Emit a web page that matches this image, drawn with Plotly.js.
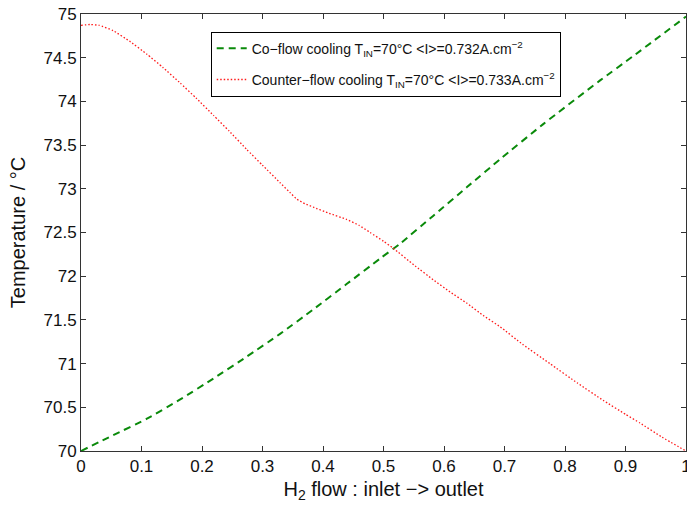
<!DOCTYPE html>
<html>
<head>
<meta charset="utf-8">
<script src="https://cdn.plot.ly/plotly-3.0.1.min.js"></script>
<style>html,body{margin:0;padding:0;background:#fff;}#chart{width:687px;height:508px;}</style>
</head>
<body>
<div id="chart"></div>
<script>
// Co-flow cooling (green dashed)
var coflowX = [0, 0.053, 0.109, 0.164, 0.219, 0.274, 0.329, 0.384, 0.439, 0.494, 0.527, 0.582, 0.638, 0.693, 0.764, 0.858, 0.913, 1.0];
var coflowT = [70.00, 70.18, 70.37, 70.59, 70.83, 71.08, 71.34, 71.62, 71.91, 72.20, 72.37, 72.69, 73.02, 73.34, 73.74, 74.24, 74.52, 74.97];

// Counter-flow cooling (red dotted)
var counterX = [0, 0.015, 0.03, 0.053, 0.08, 0.109, 0.135, 0.164, 0.19, 0.219, 0.245, 0.274, 0.3, 0.329, 0.345, 0.357, 0.37, 0.384, 0.41, 0.439, 0.46, 0.478, 0.5, 0.516, 0.55, 0.582, 0.61, 0.638, 0.665, 0.693, 0.73, 0.775, 0.82, 0.863, 0.9, 0.924, 0.96, 1.0];
var counterT = [74.87, 74.88, 74.87, 74.81, 74.69, 74.54, 74.39, 74.21, 74.04, 73.84, 73.66, 73.45, 73.27, 73.07, 72.96, 72.88, 72.83, 72.79, 72.72, 72.65, 72.58, 72.50, 72.40, 72.32, 72.13, 71.96, 71.82, 71.69, 71.55, 71.42, 71.22, 71.00, 70.78, 70.58, 70.42, 70.32, 70.16, 70.00];

var xTicks = [0, 0.1, 0.2, 0.3, 0.4, 0.5, 0.6, 0.7, 0.8, 0.9, 1];
var xTickText = ['0', '0.1', '0.2', '0.3', '0.4', '0.5', '0.6', '0.7', '0.8', '0.9', '1'];
var yTicks = [70, 70.5, 71, 71.5, 72, 72.5, 73, 73.5, 74, 74.5, 75];
var yTickText = ['70', '70.5', '71', '71.5', '72', '72.5', '73', '73.5', '74', '74.5', '75'];

var seriesNames = [
  'Co\u2212flow cooling T<sub>IN</sub>=70°C &lt;I&gt;=0.732A.cm<sup>\u22122</sup>',
  'Counter\u2212flow cooling T<sub>IN</sub>=70°C &lt;I&gt;=0.733A.cm<sup>\u22122</sup>'
];

var traces = [
  {x: coflowX, y: coflowT, type: 'scatter', mode: 'lines', name: seriesNames[0], legendgroup: 'a',
   line: {color: '#0a8a0a', width: 2, dash: '7px,5px', shape: 'spline', smoothing: 0.5}},
  {x: counterX, y: counterT, type: 'scatter', mode: 'lines', name: seriesNames[1], legendgroup: 'b',
   line: {color: '#ff1a1a', width: 1.3, dash: '1.5px,2px', shape: 'spline', smoothing: 0.4}}
];

var axisCommon = {
  showline: true, linecolor: '#333', linewidth: 1, mirror: 'ticks',
  ticks: 'inside', ticklen: 5, tickcolor: '#333', tickwidth: 1,
  showgrid: false, zeroline: false, ticklabeloverflow: 'allow',
  tickfont: {family: 'Liberation Sans, Arial, sans-serif', size: 17, color: '#111'}
};

var layout = {
  width: 687, height: 508,
  margin: {l: 81, r: 1, t: 14, b: 57},
  paper_bgcolor: '#fff', plot_bgcolor: '#fff',
  showlegend: true,
  legend: {
    x: 0.2144, y: 0.9595, xanchor: 'left', yanchor: 'top',
    bordercolor: '#000', borderwidth: 1, bgcolor: '#fff',
    font: {family: 'Liberation Sans, Arial, sans-serif', size: 14, color: '#111'},
    tracegroupgap: 10
  },
  xaxis: Object.assign({}, axisCommon, {
    range: [0, 1], tickvals: xTicks, ticktext: xTickText,
    title: {text: 'H<sub>2</sub> flow : inlet \u2212> outlet', standoff: 6,
            font: {family: 'Liberation Sans, Arial, sans-serif', size: 20, color: '#111'}}
  }),
  yaxis: Object.assign({}, axisCommon, {
    range: [70, 75], tickvals: yTicks, ticktext: yTickText,
    title: {text: 'Temperature / °C', standoff: 12,
            font: {family: 'Liberation Sans, Arial, sans-serif', size: 20, color: '#111'}}
  })
};

Plotly.newPlot('chart', traces, layout, {displayModeBar: false, staticPlot: true});
</script>
</body>
</html>
